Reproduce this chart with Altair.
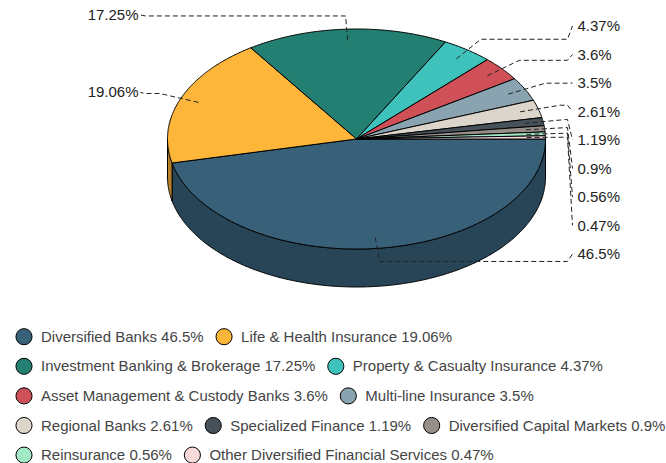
import math
import altair as alt
import pandas as pd

# ---------------- data ----------------
categories = [
    "Diversified Banks", "Life & Health Insurance", "Investment Banking & Brokerage",
    "Property & Casualty Insurance", "Asset Management & Custody Banks", "Multi-line Insurance",
    "Regional Banks", "Specialized Finance", "Diversified Capital Markets", "Reinsurance",
    "Other Diversified Financial Services",
]
values = [46.5, 19.06, 17.25, 4.37, 3.6, 3.5, 2.61, 1.19, 0.9, 0.56, 0.47]
colors = ["#386079", "#fdb53a", "#237f72", "#3fc2bc", "#cf5157", "#8aa3b1",
          "#dcd5cc", "#46515a", "#958e89", "#a0eac6", "#f8dada"]
legend_rows = [[0, 1], [2, 3], [4, 5], [6, 7, 8], [9, 10]]

# ---------------- layout ----------------
W, H = 666, 463
CX, CY, RX, RY, DEPTH = 356.5, 139.0, 189.0, 110.0, 38.0
START = 90.0
FONT = "Liberation Sans"


def darker(hexc, f=0.72):
    r, g, b = (int(hexc[i:i + 2], 16) for i in (1, 3, 5))
    return "#%02x%02x%02x" % (int(r * f), int(g * f), int(b * f))


def pt(theta, f=1.0):
    a = math.radians(theta)
    return CX + RX * f * math.sin(a), CY - RY * f * math.cos(a)


total = sum(values)
angles = []
acc = START
for v in values:
    a0 = acc
    acc += v / total * 360.0
    angles.append((a0, acc))

# top faces
top_rows = []
for i, (a0, a1) in enumerate(angles):
    n = max(2, int(abs(a1 - a0) / 0.5) + 1)
    pts = [(CX, CY)] + [pt(a0 + (a1 - a0) * k / (n - 1)) for k in range(n)] + [(CX, CY)]
    for k, (x, y) in enumerate(pts):
        top_rows.append({"slice": i, "k": k, "x": x, "y": y, "fill": colors[i]})
top_df = pd.DataFrame(top_rows)

# side walls (front half only)
side_rows = []
for i, (a0, a1) in enumerate(angles):
    lo, hi = max(a0, 90.0), min(a1, 270.0)
    if lo < hi:
        n = max(2, int((hi - lo) / 0.5) + 1)
        for k in range(n):
            x, y = pt(lo + (hi - lo) * k / (n - 1))
            side_rows.append({"slice": i, "x": x, "y": y, "y2": y + DEPTH,
                              "fill": darker(colors[i])})
side_df = pd.DataFrame(side_rows)

# labels and leader lines
mids = [(a0 + a1) / 2 for a0, a1 in angles]
right = [i for i in range(len(values)) if (mids[i] % 360) < 180]
left = [i for i in range(len(values)) if (mids[i] % 360) >= 180]
right.sort(key=lambda i: pt(mids[i], 1.12)[1])
SP = 28.5
label_y = {}
for j, i in enumerate(right):
    label_y[i] = CY + 1 + (j - (len(right) - 1) / 2) * SP
for i in left:
    label_y[i] = pt(mids[i], 1.12)[1] - 1

line_rows, lab_rows = [], []
for i in range(len(values)):
    side = "R" if i in right else "L"
    sgn = 1 if side == "R" else -1
    p0 = pt(mids[i], 0.9)
    p1 = pt(mids[i], 1.12)
    p2 = (CX + sgn * (RX + 22), p1[1])
    p3 = (CX + sgn * (RX + 27), label_y[i])
    for k, (x, y) in enumerate([p0, p1, p2, p3]):
        line_rows.append({"slice": i, "k": k, "x": x, "y": y})
    lab_rows.append({"x": CX + sgn * (RX + 32) + (0 if side == "R" else 3), "y": label_y[i],
                     "text": f"{values[i]:g}%", "side": side})
line_df = pd.DataFrame(line_rows)
lab_df = pd.DataFrame(lab_rows)

# legend (flow layout, Arial metrics)
CW = {" ": 278, "&": 667, "-": 333, ".": 278, "%": 889,
      "A": 667, "B": 667, "C": 722, "D": 722, "F": 611, "H": 722, "I": 278, "L": 556,
      "M": 833, "O": 778, "P": 667, "R": 722, "S": 667,
      "a": 556, "b": 556, "c": 500, "d": 556, "e": 556, "f": 278, "g": 556, "h": 556,
      "i": 222, "k": 500, "l": 222, "m": 833, "n": 556, "o": 556, "p": 556, "r": 333,
      "s": 500, "t": 278, "u": 556, "v": 500, "w": 722, "x": 500, "y": 500, "z": 500}
LFS = 15


def tw(s):
    return sum(CW.get(c, 556) for c in s) * LFS / 1000.0


leg_rows = []
for r, row in enumerate(legend_rows):
    xs = 15.0
    y = 336.7 + r * 29.6
    for i in row:
        txt = f"{categories[i]} {values[i]:g}%"
        leg_rows.append({"cx": xs + 9, "tx": xs + 26, "y": y, "text": txt, "fill": colors[i]})
        xs = xs + 26 + tw(txt) + 11.5
leg_df = pd.DataFrame(leg_rows)

# ---------------- chart ----------------
xs_ = alt.Scale(domain=[0, W], range=[0, W], nice=False, zero=False)
ys_ = alt.Scale(domain=[0, H], range=[0, H], nice=False, zero=False)

sides = alt.Chart(side_df).mark_area(stroke="black", strokeWidth=1, strokeJoin="round").encode(
    x=alt.X("x:Q", scale=xs_, axis=None),
    y=alt.Y("y:Q", scale=ys_, axis=None),
    y2="y2:Q",
    fill=alt.Fill("fill:N", scale=None),
    detail="slice:N",
)

tops = alt.Chart(top_df).mark_line(stroke="black", strokeWidth=1, strokeJoin="round").encode(
    x=alt.X("x:Q", scale=xs_, axis=None),
    y=alt.Y("y:Q", scale=ys_, axis=None),
    fill=alt.Fill("fill:N", scale=None),
    detail="slice:N",
    order="k:Q",
)

leaders = alt.Chart(line_df).mark_line(color="#222", strokeWidth=1, strokeDash=[5, 3]).encode(
    x=alt.X("x:Q", scale=xs_, axis=None),
    y=alt.Y("y:Q", scale=ys_, axis=None),
    detail="slice:N",
    order="k:Q",
)

lab_r = alt.Chart(lab_df).transform_filter(alt.datum.side == "R").mark_text(
    align="left", baseline="middle", font=FONT, fontSize=15, color="#222").encode(
    x=alt.X("x:Q", scale=xs_, axis=None),
    y=alt.Y("y:Q", scale=ys_, axis=None),
    text="text:N",
)
lab_l = alt.Chart(lab_df).transform_filter(alt.datum.side == "L").mark_text(
    align="right", baseline="middle", font=FONT, fontSize=15, color="#222").encode(
    x=alt.X("x:Q", scale=xs_, axis=None),
    y=alt.Y("y:Q", scale=ys_, axis=None),
    text="text:N",
)

leg_pts = alt.Chart(leg_df).mark_point(filled=True, shape="circle", size=260, stroke="black",
                                       strokeWidth=1, opacity=1).encode(
    x=alt.X("cx:Q", scale=xs_, axis=None),
    y=alt.Y("y:Q", scale=ys_, axis=None),
    fill=alt.Fill("fill:N", scale=None),
)
leg_txt = alt.Chart(leg_df).mark_text(align="left", baseline="middle", font=FONT, fontSize=LFS,
                                      color="#444").encode(
    x=alt.X("tx:Q", scale=xs_, axis=None),
    y=alt.Y("y:Q", scale=ys_, axis=None),
    text="text:N",
)

chart = alt.layer(sides, tops, leaders, lab_r, lab_l, leg_pts, leg_txt).properties(
    width=W, height=H, padding=0, autosize=alt.AutoSizeParams(type="none"),
    background="white",
).configure_view(strokeWidth=0)

chart.save("out.html", embed_options={"renderer": "svg", "actions": False})
